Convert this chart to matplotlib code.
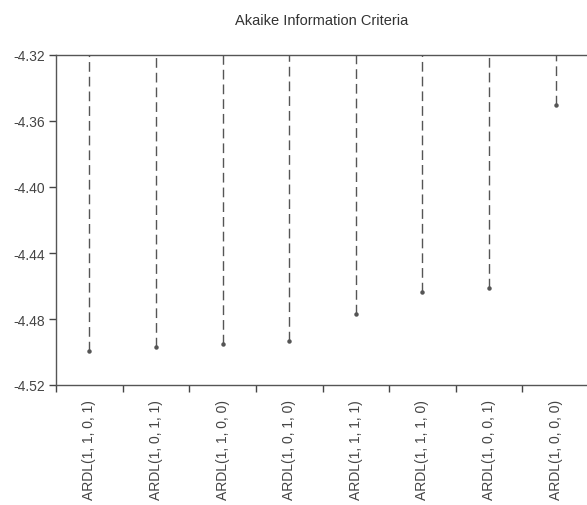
import matplotlib
matplotlib.use("Agg")
import matplotlib.pyplot as plt
import numpy as np

plt.rcParams['font.family'] = ['Liberation Sans', 'DejaVu Sans']

models = ["ARDL(1, 1, 0, 1)", "ARDL(1, 0, 1, 1)", "ARDL(1, 1, 0, 0)", "ARDL(1, 0, 1, 0)",
          "ARDL(1, 1, 1, 1)", "ARDL(1, 1, 1, 0)", "ARDL(1, 0, 0, 1)", "ARDL(1, 0, 0, 0)"]
aic = [-4.4995, -4.4970, -4.4952, -4.4933, -4.4770, -4.4636, -4.4612, -4.3503]
y_ticks = [-4.32, -4.36, -4.40, -4.44, -4.48, -4.52]
y_top = -4.32
y_bottom = -4.52

fig = plt.figure(figsize=(5.87, 5.06), dpi=100)
ax = fig.add_axes([56/587, 1-386/506, 533/587, 330/506])

x = np.arange(len(models))
line_col = '#555555'
ax.vlines(x, aic, y_top, colors=line_col, linestyles=(0, (7, 3.6)), linewidth=1.0)
ax.plot(x, aic, 'o', color=line_col, markersize=2.2, linestyle='none')

ax.set_xlim(-0.5, len(models) - 0.5)
ax.set_ylim(y_bottom, y_top)
ax.set_yticks(y_ticks)
ax.set_yticklabels([f"{v:.2f}".replace('\u2212', '-') for v in y_ticks])
ax.set_xticks(x)
ax.set_xticklabels(models, rotation=90)
ax.set_xticks(np.arange(len(models) + 1) - 0.5, minor=True)
ax.tick_params(axis='x', which='major', length=0, pad=10, labelsize=10, labelcolor='#444444')
ax.tick_params(axis='x', which='minor', length=5, width=1, color='#444444', direction='out')
ax.tick_params(axis='y', which='major', length=5, width=1, color='#444444', direction='out',
               labelsize=10, labelcolor='#444444', pad=3)

for s in ['left', 'top', 'bottom']:
    ax.spines[s].set_color('#555555')
    ax.spines[s].set_linewidth(1.0)
ax.spines['right'].set_visible(False)

fig.text(0.548, 1-21/506, "Akaike Information Criteria", ha='center', va='center',
         fontsize=10.5, color='#333333')

fig.savefig("out.png", dpi=100)
